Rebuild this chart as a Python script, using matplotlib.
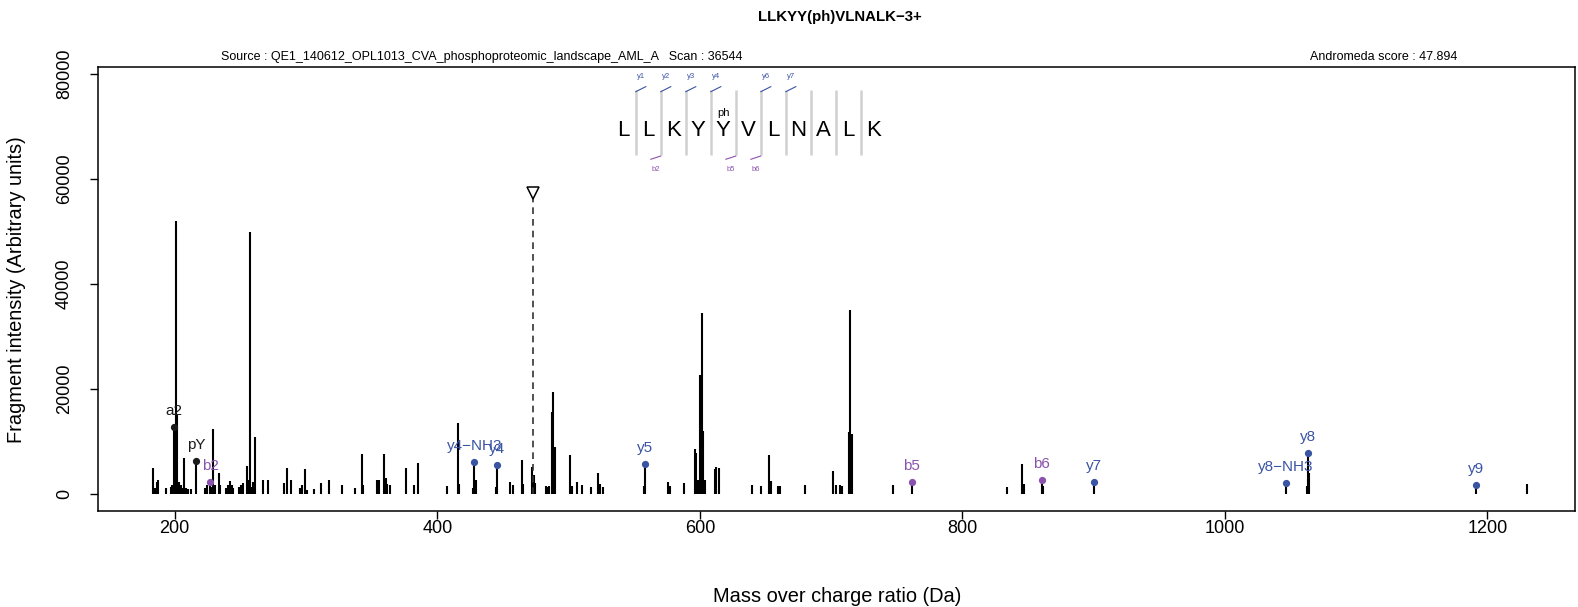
import matplotlib.pyplot as plt

plt.rcParams['font.family'] = ['Liberation Sans', 'DejaVu Sans']

# --- texte du spectre ---
title = "LLKYY(ph)VLNALK\u22123+"
source_txt = "Source : QE1_140612_OPL1013_CVA_phosphoproteomic_landscape_AML_A   Scan : 36544"
score_txt = "Andromeda score : 47.894"

# sequence et coupures marquees au-dessus (y) / en dessous (b)
sequence = list("LLKYYVLNALK")
phospho_idx = 4
y_cuts = [1, 2, 3, 4, 6, 7]
b_cuts = [2, 5, 6]

precursor_mz = 473.27
precursor_int = 57280

# pics non annotes
peak_mz = [183.2, 184.7, 186.2, 187.4, 193.3, 196.9, 198.0, 201.3, 202.0, 203.2,
           204.5, 205.8, 207.3, 208.3, 210.3, 212.1, 223.3, 224.3, 228.1, 229.4,
           230.9, 233.4, 234.4, 239.0, 240.3, 242.1, 243.4, 244.6, 249.2, 250.5,
           251.8, 254.8, 256.1, 257.3, 258.6, 259.9, 261.1, 267.4, 271.2, 283.2,
           285.2, 288.6, 295.4, 296.7, 299.2, 300.5, 306.1, 311.1, 317.5, 327.1,
           337.3, 342.6, 343.6, 353.8, 355.3, 359.6, 360.6, 361.9, 364.0, 376.1,
           382.2, 385.5, 407.1, 415.7, 416.5, 427.3, 429.8, 444.4, 455.4, 457.4,
           464.3, 465.5, 472.3, 473.6, 474.4, 482.5, 484.0, 485.3, 487.1, 488.4,
           489.4, 501.1, 502.4, 506.1, 510.2, 517.3, 522.4, 523.7, 526.2, 557.2,
           575.5, 577.3, 587.8, 596.3, 597.3, 598.8, 600.1, 601.4, 602.6, 603.4,
           604.2, 611.5, 612.6, 614.5, 639.5, 646.5, 652.9, 654.0, 659.9, 661.2,
           680.5, 701.3, 703.6, 706.6, 708.5, 713.4, 714.5, 715.7, 747.3, 834.2,
           845.4, 846.7, 861.5, 1062.8, 1064.3, 1229.9]
peak_int = [5000, 1100, 2350, 2700, 1100, 1400, 1750, 52000, 15000, 2350,
            1750, 1100, 6800, 1100, 1000, 1000, 1100, 1750, 1400, 12300,
            1750, 3950, 1750, 1100, 1750, 2500, 1750, 1100, 1400, 1750,
            2200, 5350, 2700, 49800, 1400, 2350, 10900, 2700, 2700, 2200,
            5000, 2700, 1200, 1750, 4700, 850, 1000, 2200, 2700, 1750,
            1100, 7550, 1750, 2700, 2700, 7550, 3000, 2000, 1750, 4900,
            1730, 6000, 1540, 13450, 2000, 1100, 2700, 1300, 2250, 1650,
            6500, 2000, 5200, 3650, 2200, 1500, 1400, 1500, 15700, 19500,
            9000, 7450, 1500, 2250, 1730, 1300, 4080, 1900, 1300, 1540,
            2360, 1620, 2200, 8580, 7900, 2600, 22650, 34400, 12000, 2600,
            2600, 4700, 5200, 5000, 1650, 1600, 7440, 2500, 1600, 1600,
            1800, 4460, 1800, 1800, 1600, 11800, 35000, 11400, 1730, 1430,
            5720, 1920, 1500, 1500, 4000, 1900]

# fragments annotes
ion_labels = ["a2", "pY", "b2", "y4\u2212NH3", "y4", "y5", "b5", "b6", "y7",
              "y8\u2212NH3", "y8", "y9"]
ion_mz = [199.2, 216.4, 227.2, 428.3, 445.3, 558.4, 761.4, 860.4, 900.5,
          1046.5, 1063.5, 1191.6]
ion_int = [12800, 6350, 2350, 6150, 5600, 5660, 2300, 2600, 2240, 2100, 7850, 1720]
ion_type = ["other", "other", "b", "y", "y", "y", "b", "b", "y", "y", "y", "y"]

colors = {"y": "#3a54a4", "b": "#8b52ad", "other": "#1a1a1a"}

fig = plt.figure(figsize=(15.78, 6.07), dpi=100)
ax = fig.add_axes([0.0624, 0.1582, 0.9357, 0.7308])

ax.vlines(peak_mz, 0, peak_int, color='black', lw=1.5)

for lab, mz, inten, t in zip(ion_labels, ion_mz, ion_int, ion_type):
    ax.vlines(mz, 0, inten, color='black', lw=1.5)
    ax.plot(mz, inten, 'o', ms=4.2, color=colors[t], zorder=3)
    ax.annotate(lab, (mz, inten), xytext=(0, 11.5), textcoords='offset points',
                ha='center', va='center', fontsize=11, color=colors[t])

# precurseur
ax.vlines(precursor_mz, 0, precursor_int, color='#333333', lw=1.2, linestyles=(0, (4, 3)))
ax.plot(precursor_mz, precursor_int, marker='v', ms=9, mfc='white', mec='black', mew=1.1)

# sequence en haut du graphe
seq_x0 = 541.7
seq_step = 19.05
letter_y = 69130
sep_top, sep_bot = 76870, 64500
for i, aa in enumerate(sequence):
    ax.text(seq_x0 + i * seq_step, letter_y, aa, ha='center', va='center', fontsize=16)
ax.text(seq_x0 + phospho_idx * seq_step, 72440, "ph", ha='center', va='center', fontsize=8)
for k in range(1, len(sequence)):
    xs = seq_x0 + (k - 0.5) * seq_step
    ax.plot([xs, xs], [sep_bot, sep_top], color='#d0d0d0', lw=1.8, solid_capstyle='butt')
    if k in y_cuts:
        ax.plot([xs, xs + 7.6], [76550, 77500], color=colors["y"], lw=0.8)
        ax.text(xs + 3.8, 79400, "y%d" % k, ha='center', va='center', fontsize=5.5, color=colors["y"])
    if k in b_cuts:
        ax.plot([xs, xs - 7.6], [64310, 63690], color=colors["b"], lw=0.8)
        ax.text(xs - 3.8, 61790, "b%d" % k, ha='center', va='center', fontsize=5.5, color=colors["b"])

ax.set_xlim(141.9, 1266.7)
ax.set_ylim(-3215, 81170)
ax.set_xticks([200, 400, 600, 800, 1000, 1200])
ax.set_yticks([0, 20000, 40000, 60000, 80000])
ax.tick_params(axis='both', direction='out', length=5.8, width=1, labelsize=13)
ax.tick_params(axis='x', pad=0.5)
ax.tick_params(axis='y', pad=12.5)
for lbl in ax.get_yticklabels():
    lbl.set_rotation(90)
    lbl.set_va('center')
for s in ax.spines.values():
    s.set_linewidth(1.1)

fig.text(17 / 1578, 1 - 290 / 607, "Fragment intensity (Arbitrary units)", rotation=90,
         ha='center', va='center', fontsize=14.4)
fig.text(836.7 / 1578, 1 - 596 / 607, "Mass over charge ratio (Da)", ha='center', va='center', fontsize=14.4)
fig.text(839.5 / 1578, 1 - 17.1 / 607, title, ha='center', va='center', fontsize=10.8, fontweight='bold')
fig.text(221 / 1578, 1 - 57.4 / 607, source_txt, ha='left', va='center', fontsize=9)
fig.text(1457 / 1578, 1 - 57.4 / 607, score_txt, ha='right', va='center', fontsize=9)

fig.savefig("out.png", dpi=100)
plt.close(fig)
